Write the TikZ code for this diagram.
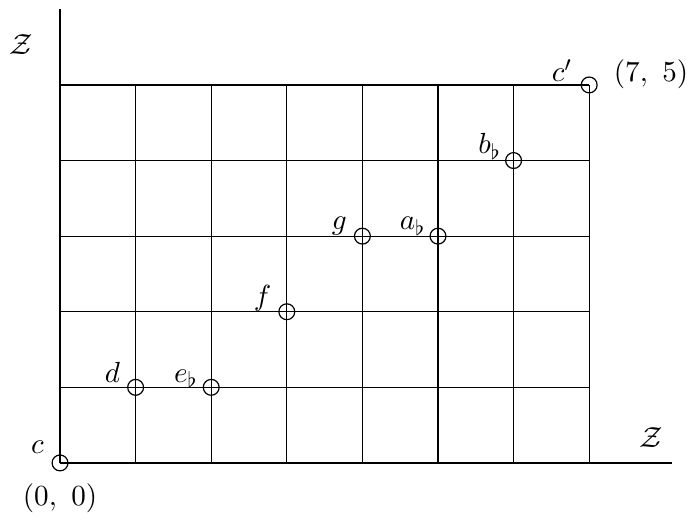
\documentclass[tikz,border=0pt]{standalone}
\usetikzlibrary{calc}
\begin{document}
\begin{tikzpicture}[x=1cm,y=1cm,font=\fontsize{10.8}{13}\selectfont,
  gridline/.style={line width=0.45pt},
  pt/.style={circle,draw,line width=0.45pt,inner sep=0pt,minimum size=0.21cm},
  lab/.style={inner sep=0pt,anchor=base east}]
\useasboundingbox (-0.794,-0.780) rectangle (8.294,6.124);
% axes
\coordinate (O) at (0,0);
\coordinate (ytop) at (0,6.0);
\coordinate (xend) at (8.1,0);
\draw[gridline] (O) -- (ytop);
\draw[gridline] (O) -- (xend);
% grid
\foreach \y in {1,...,5} \draw[gridline] (0,\y) -- (7,\y);
\foreach \x in {1,...,7} \draw[gridline] (\x,0) -- (\x,5);
% points
\node[pt] (c) at (0,0) {};
\node[pt] (d) at (1,1) {};
\node[pt] (eb) at (2,1) {};
\node[pt] (f) at (3,2) {};
\node[pt] (g) at (4,3) {};
\node[pt] (ab) at (5,3) {};
\node[pt] (bb) at (6,4) {};
\node[pt] (cp) at (7,5) {};
% labels
\node[lab] (lc) at ($(c)+(-0.21,0.12)$) {$c$};
\node[lab] (ld) at ($(d)+(-0.20,0.07)$) {$d$};
\node[lab] (leb) at ($(eb)+(-0.17,0.07)$) {$e_\flat$};
\node[lab] (lf) at ($(f)+(-0.20,0.08)$) {$f$};
\node[lab] (lg) at ($(g)+(-0.20,0.09)$) {$g$};
\node[lab] (lab) at ($(ab)+(-0.16,0.09)$) {$a_\flat$};
\node[lab] (lbb) at ($(bb)+(-0.16,0.09)$) {$b_\flat$};
\node[lab] (lcp) at ($(cp)+(-0.22,0.04)$) {$c'$};
\node[inner sep=0pt,anchor=base west] (l75) at ($(cp)+(0.32,0.04)$) {$(7,\ 5)$};
\node[inner sep=0pt,anchor=base] (l00) at ($(c)+(0,-0.56)$) {$(0,\ 0)$};
\node[inner sep=0pt,anchor=base] (zy) at (-0.51,5.40) {$\mathcal{Z}$};
\node[inner sep=0pt,anchor=base] (zx) at (7.82,0.20) {$\mathcal{Z}$};
\end{tikzpicture}
\end{document}
